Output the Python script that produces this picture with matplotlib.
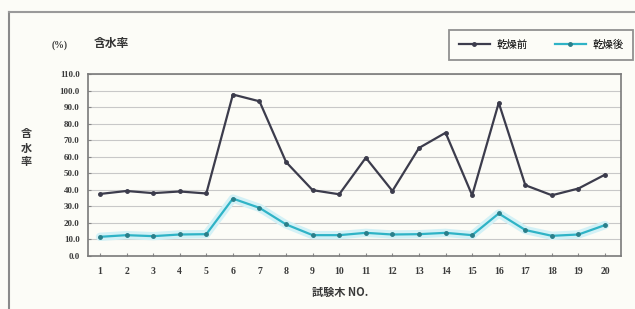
import numpy as np
import matplotlib.pyplot as plt
from matplotlib.lines import Line2D

plt.rcParams['font.family'] = ['Liberation Serif', 'Noto Sans CJK JP', 'DejaVu Sans']

trees = list(range(1, 21))
before = [37.5, 39.3, 38.0, 39.0, 37.8, 97.6, 93.5, 56.8, 39.8, 37.3,
          59.4, 39.3, 65.3, 74.5, 36.7, 92.6, 42.8, 36.7, 40.8, 49.2]
after = [11.6, 12.6, 12.0, 13.0, 13.2, 34.7, 29.1, 19.1, 12.6, 12.6,
         14.0, 13.0, 13.2, 14.0, 12.6, 25.7, 15.7, 12.2, 13.0, 18.7]

bg = '#fcfcf7'
dark = '#3c3c4c'
cyan = '#2fb3c6'

fig = plt.figure(figsize=(6.35, 3.09), dpi=100, facecolor=bg)
ax = fig.add_axes([0.1386, 0.1715, 0.978 - 0.1386, 0.7605 - 0.1715])
ax.set_facecolor(bg)

# frame round the chart (left and top only visible)
fig.add_artist(Line2D([9/635, 9/635], [0, 1 - 12/309], color='#8a8a8a', lw=1.5))
fig.add_artist(Line2D([9/635, 1], [1 - 12/309, 1 - 12/309], color='#9a9a9a', lw=1.5))

ax.set_ylim(0, 110)
ax.set_xlim(0.55, 20.6)
ax.set_yticks(np.arange(0, 111, 10))
ax.set_yticklabels(['%.1f' % v for v in np.arange(0, 111, 10)], fontsize=6.5, color='#3a3a3a',
                   fontweight='bold')
ax.set_xticks(trees)
ax.set_xticklabels([str(t) for t in trees], fontsize=7, color='#3a3a3a', fontweight='bold')
ax.tick_params(axis='both', direction='in', length=2, color='#888888')
ax.tick_params(axis='x', pad=8)
ax.tick_params(axis='y', pad=6)
ax.grid(axis='y', color='#c8c8c8', lw=0.8)
ax.set_axisbelow(True)
for s in ax.spines.values():
    s.set_color('#7a7a7a')
    s.set_linewidth(1.2)

# glow under the cyan line
ax.plot(trees, after, color='#d3f1f6', lw=6, solid_capstyle='round', zorder=2)
ax.plot(trees, before, color=dark, lw=1.6, marker='o', ms=2.5, zorder=3, label='乾燥前')
ax.plot(trees, after, color=cyan, lw=1.6, marker='o', ms=2.5, mfc='#2a7f8a', mec='#2a7f8a',
        zorder=3, label='乾燥後')

fig.text(60/635, 1 - 45/309, '(%)', fontsize=7, color='#3a3a3a', ha='center', va='center',
         fontweight='bold')
fig.text(111/635, 1 - 43/309, '含水率', fontsize=8.5, color='#333333', ha='center', va='center',
         family=['Noto Sans CJK JP'], fontweight='bold')
fig.text(26/635, 1 - 148/309, '含\n水\n率', fontsize=8, color='#3a3a3a', ha='center', va='center',
         family=['Noto Sans CJK JP'], linespacing=1.1, fontweight='bold')
fig.text(340/635, 1 - 292/309, '試験木 NO.', fontsize=8, color='#3a3a3a', ha='center', va='center',
         family=['Noto Sans CJK JP', 'Liberation Serif'], fontweight='bold')

leg = fig.legend(loc='center', bbox_to_anchor=(541/635, 1 - 45/309), ncol=2,
                 frameon=True, fancybox=False, edgecolor='#777777', facecolor=bg,
                 prop={'family': ['Noto Sans CJK JP'], 'size': 7.5},
                 handlelength=3.0, columnspacing=2.6, borderpad=0.9, handletextpad=0.6)
leg.get_frame().set_linewidth(1.3)

fig.savefig('out.png', dpi=100, facecolor=bg)
